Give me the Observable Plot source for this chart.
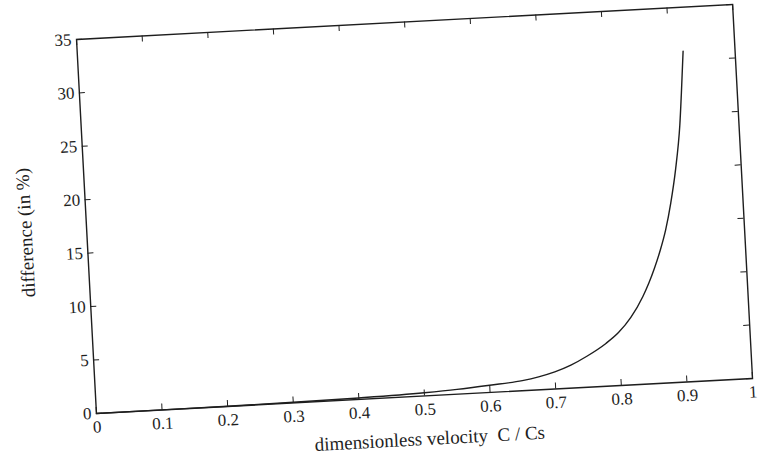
<!DOCTYPE html>
<html>
<head>
<meta charset="utf-8">
<script src="https://cdn.jsdelivr.net/npm/d3@7"></script>
<script src="https://cdn.jsdelivr.net/npm/@observablehq/plot@0.6"></script>
<style>
  html, body { margin: 0; padding: 0; background: #fff; }
  #chart { width: 762px; height: 461px; overflow: hidden; }
</style>
</head>
<body>
<div id="chart"></div>
<script>
// Data
const velocity   = [0, 0.1, 0.2, 0.3, 0.4, 0.5, 0.55, 0.6, 0.65, 0.675, 0.7, 0.725, 0.75, 0.78, 0.8, 0.82, 0.84, 0.85, 0.86, 0.87, 0.88, 0.89, 0.9, 0.91, 0.915, 0.921];
const difference = [0, 0.005, 0.02, 0.06, 0.14, 0.3, 0.45, 0.68, 0.95, 1.22, 1.6, 2.15, 2.9, 4.0, 4.95, 6.3, 8.2, 9.4, 10.8, 12.4, 14.3, 16.8, 19.9, 24.0, 27.0, 30.9];
const xTicks = [0, 0.1, 0.2, 0.3, 0.4, 0.5, 0.6, 0.7, 0.8, 0.9, 1];
const yTicks = [0, 5, 10, 15, 20, 25, 30, 35];
const xLabel = "dimensionless velocity  C / Cs";
const yLabel = "difference (in %)";

const W = 762, H = 461;
const mL = 85.5, mR = 19.5, mT = 21.25, mB = 65.25;
const frameW = W - mL - mR, frameH = H - mT - mB;
const ink = "#1e1e1e";

const svg = Plot.plot({
  width: W, height: H,
  marginLeft: mL, marginRight: mR, marginTop: mT, marginBottom: mB,
  style: { fontFamily: "'Liberation Serif', 'DejaVu Serif', serif", fontSize: "17px", color: ink, background: "transparent" },
  x: { domain: [0, 1], ticks: xTicks, tickSize: 0, tickPadding: 7, tickFormat: d => String(d), label: null },
  y: { domain: [0, 35], ticks: yTicks, tickSize: 0, tickPadding: 5, tickFormat: d => String(d), label: null },
  marks: [
    Plot.frame({ stroke: ink, strokeWidth: 1.4 }),
    Plot.tickX(xTicks, { x: d => d, insetTop: frameH - 6, stroke: ink, strokeWidth: 1 }),
    Plot.tickX(xTicks, { x: d => d, insetBottom: frameH - 6, stroke: ink, strokeWidth: 1 }),
    Plot.tickY(yTicks, { y: d => d, insetRight: frameW - 6, stroke: ink, strokeWidth: 1 }),
    Plot.tickY(yTicks, { y: d => d, insetLeft: frameW - 6, stroke: ink, strokeWidth: 1 }),
    Plot.line(velocity, { x: velocity, y: difference, curve: "monotone-x", stroke: ink, strokeWidth: 1.4 }),
    Plot.text([xLabel], { text: d => d, frameAnchor: "bottom", textAnchor: "middle", lineAnchor: "middle", dx: 3, dy: 43, fontSize: 19, fill: ink }),
    Plot.text([yLabel], { text: d => d, frameAnchor: "left", textAnchor: "middle", lineAnchor: "middle", rotate: -90, dx: -61, dy: 3, fontSize: 19, fill: ink })
  ]
});
svg.style.transformOrigin = "414px 208.5px";
svg.style.transform = "rotate(-3.05deg)";
svg.style.overflow = "visible";
document.getElementById("chart").appendChild(svg);
</script>
</body>
</html>
